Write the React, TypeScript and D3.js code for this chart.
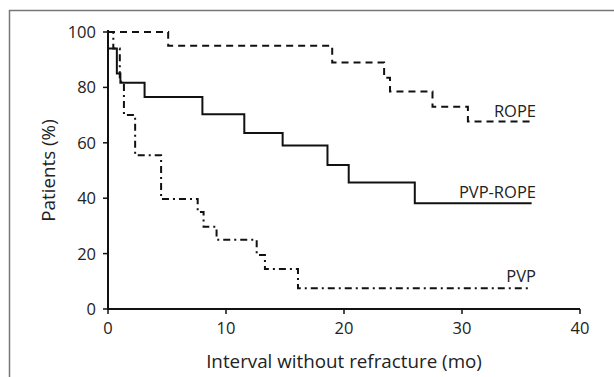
import React from "react";
import * as d3 from "d3";

const ropeTimes = [0, 5.1, 19.0, 23.4, 23.9, 27.5, 30.5, 35.9];
const ropeValues = [100, 95, 89, 83.5, 78.5, 73, 67.7, 67.7];

const pvpRopeTimes = [0, 0.75, 1.05, 3.1, 8.0, 11.55, 14.8, 18.6, 20.4, 26.0, 35.9];
const pvpRopeValues = [94, 85, 81.7, 76.5, 70.3, 63.5, 59, 52, 45.7, 38.2, 38.2];

const pvpTimes = [0, 0.45, 1.0, 1.35, 2.3, 4.5, 7.6, 8.1, 9.2, 12.6, 13.3, 16.1, 35.9];
const pvpValues = [100, 94, 82, 70, 55.5, 39.7, 35, 29.7, 25, 19.5, 14.4, 7.5, 7.5];

const xTicks = [0, 10, 20, 30, 40];
const yTicks = [0, 20, 40, 60, 80, 100];

const seriesLabels = ["ROPE", "PVP-ROPE", "PVP"];

const W = 614;
const H = 377;
const FONT = "'Open Sans', 'Noto Sans', sans-serif";

export default function App() {
  const x = d3.scaleLinear().domain([0, 40]).range([108, 580]);
  const y = d3.scaleLinear().domain([0, 100]).range([309, 32]);
  const line = d3
    .line<[number, number]>()
    .x((d) => x(d[0]))
    .y((d) => y(d[1]))
    .curve(d3.curveStepAfter);

  const mk = (t: number[], v: number[]) => t.map((ti, i) => [ti, v[i]] as [number, number]);
  const series = [
    { pts: mk(ropeTimes, ropeValues), dash: "7,5", label: seriesLabels[0] },
    { pts: mk(pvpRopeTimes, pvpRopeValues), dash: "none", label: seriesLabels[1] },
    { pts: mk(pvpTimes, pvpValues), dash: "7,4,2,4", label: seriesLabels[2] },
  ];
  const labelPos = [
    { x: 536, y: 116.5 },
    { x: 536, y: 198 },
    { x: 536, y: 281.5 },
  ];

  return (
    <svg
      width={W}
      height={H}
      style={{ position: "absolute", left: 0, top: 0, background: "#fff" }}
      fontFamily={FONT}
    >
      <rect x={0} y={0} width={W} height={H} fill="#fff" />
      {/* frame */}
      <path d={`M9.5,${H}V10.5H${W}`} fill="none" stroke="#777" strokeWidth={1.5} />

      {/* series */}
      {series.map((s, i) => (
        <path
          key={i}
          d={line(s.pts) || ""}
          fill="none"
          stroke="#111"
          strokeWidth={2}
          strokeDasharray={s.dash}
        />
      ))}

      {/* axes */}
      <line x1={x(0)} x2={x(40)} y1={y(0)} y2={y(0)} stroke="#111" strokeWidth={2} />
      <line x1={x(0)} x2={x(0)} y1={y(0) + 1} y2={y(100) - 2} stroke="#111" strokeWidth={2} />
      {xTicks.map((t) => (
        <g key={"x" + t}>
          <line x1={x(t)} x2={x(t)} y1={y(0)} y2={y(0) + 5} stroke="#111" strokeWidth={1.5} />
          <text x={x(t)} y={334} textAnchor="middle" fontSize={16.5} fill="#222">
            {t}
          </text>
        </g>
      ))}
      {yTicks.map((t) => (
        <g key={"y" + t}>
          <line x1={x(0) - 5} x2={x(0) + 1} y1={y(t)} y2={y(t)} stroke="#111" strokeWidth={1.5} />
          <text x={96} y={y(t)} dy="0.36em" textAnchor="end" fontSize={16.5} fill="#222">
            {t}
          </text>
        </g>
      ))}

      {/* series labels */}
      {series.map((s, i) => (
        <text key={"l" + i} x={labelPos[i].x} y={labelPos[i].y} textAnchor="end" fontSize={16.5} fill="#222">
          {s.label}
        </text>
      ))}

      {/* axis titles */}
      <text x={344} y={368} textAnchor="middle" fontSize={18.8} fill="#222">
        Interval without refracture (mo)
      </text>
      <text
        transform={`translate(55,${y(50)}) rotate(-90)`}
        textAnchor="middle"
        fontSize={18.8}
        fill="#222"
      >
        Patients (%)
      </text>
    </svg>
  );
}
